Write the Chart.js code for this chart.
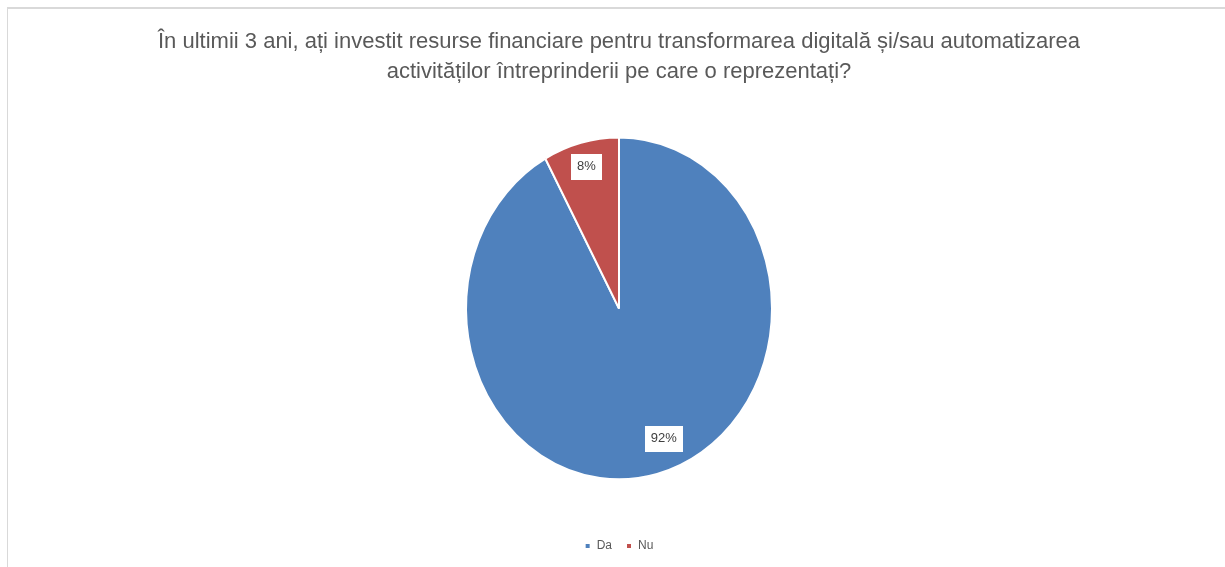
<!DOCTYPE html>
<html>
<head>
<meta charset="utf-8">
<title>Investiții în transformarea digitală</title>
<script src="https://cdn.jsdelivr.net/npm/chart.js"></script>
<style>
  html, body { margin: 0; padding: 0; background: #fff; overflow: hidden; }
  #wrap { position: absolute; left: 0; top: 0; width: 1225px; height: 567px; }
  #frame { position: absolute; left: 7px; top: 7px; width: 1300px; height: 700px;
           border-top: 2px solid #d9d9d9; border-left: 1px solid #d9d9d9; }
</style>
</head>
<body>
<div id="wrap">
  <div id="frame"></div>
  <canvas id="pie"></canvas>
</div>
<script>
// data
const titleLines = ['În ultimii 3 ani, ați investit resurse financiare pentru transformarea digitală și/sau automatizarea',
                    'activităților întreprinderii pe care o reprezentați?'];
const answers = ['Da', 'Nu'];
const shares = [92, 8];

const colors = ['#4F81BD', '#C0504D'];
const FONT = "'Liberation Sans', Arial, sans-serif";
const SY = 342 / 306;            // Excel drew the pie slightly taller than wide
const labelAt = [0.48, 0.5];     // position along each slice
const labelR = [0.815, 0.855];   // distance from centre, fraction of radius

// stretch the pie vertically around its centre
const stretch = {
  id: 'stretch',
  beforeDatasetsDraw(chart) {
    const arc = chart.getDatasetMeta(0).data[0];
    const ctx = chart.ctx;
    ctx.save();
    ctx.translate(arc.x, arc.y);
    ctx.scale(1, SY);
    ctx.translate(-arc.x, -arc.y);
  },
  afterDatasetsDraw(chart) {
    chart.ctx.restore();
  }
};

// percentage labels in white boxes
const pctLabels = {
  id: 'pctLabels',
  afterDraw(chart) {
    const ctx = chart.ctx;
    const meta = chart.getDatasetMeta(0);
    ctx.save();
    ctx.font = '13px ' + FONT;
    ctx.textAlign = 'center';
    ctx.textBaseline = 'middle';
    meta.data.forEach(function (arc, i) {
      const a = arc.startAngle + (arc.endAngle - arc.startAngle) * labelAt[i];
      const r = arc.outerRadius * labelR[i];
      const x = arc.x + Math.cos(a) * r;
      const y = arc.y + Math.sin(a) * r * SY;
      const txt = shares[i] + '%';
      const w = ctx.measureText(txt).width + 12;
      const h = 26;
      ctx.fillStyle = '#ffffff';
      ctx.fillRect(Math.round(x - w / 2), Math.round(y - h / 2), Math.round(w), h);
      ctx.fillStyle = '#404040';
      ctx.fillText(txt, x, y);
    });
    ctx.restore();
  }
};

const ctx = document.getElementById('pie').getContext('2d');
new Chart(ctx, {
  type: 'pie',
  data: {
    labels: answers,
    datasets: [{
      data: shares,
      backgroundColor: colors,
      borderColor: '#ffffff',
      borderWidth: 2,
      radius: 153
    }]
  },
  options: {
    responsive: true,
    maintainAspectRatio: false,
    animation: false,
    layout: { padding: { left: 13, right: 0, top: 0, bottom: 5 } },
    plugins: {
      title: {
        display: true,
        text: titleLines,
        color: '#595959',
        font: { family: FONT, size: 22, weight: 'normal', lineHeight: 1.36 },
        padding: { top: 27, bottom: 4 }
      },
      legend: {
        display: true,
        position: 'bottom',
        labels: {
          color: '#595959',
          font: { family: FONT, size: 12 },
          usePointStyle: true,
          pointStyle: 'rect',
          boxWidth: 6,
          boxHeight: 6,
          padding: 14
        }
      },
      tooltip: { enabled: false }
    }
  },
  plugins: [stretch, pctLabels]
});
</script>
</body>
</html>
